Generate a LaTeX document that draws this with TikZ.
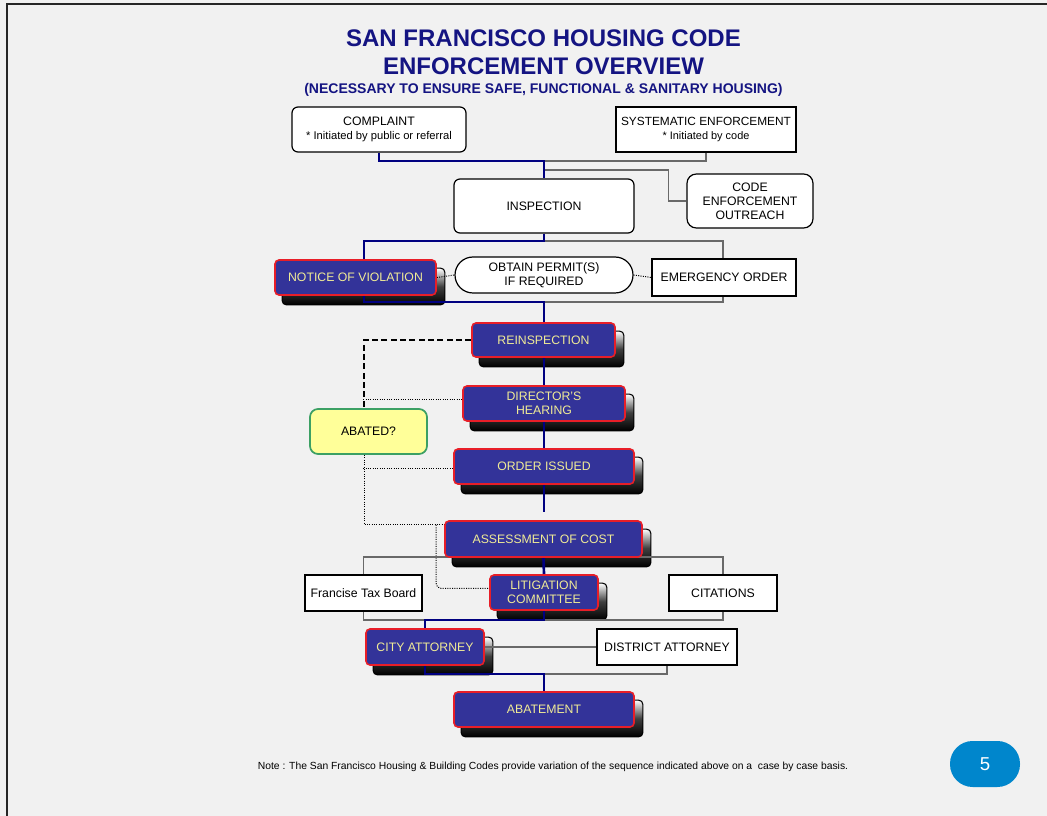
\documentclass[tikz,border=0pt]{standalone}
\usepackage{fontspec}
\setmainfont{Liberation Sans}
\usetikzlibrary{calc}
\pgfdeclarelayer{bgl}
\pgfdeclarelayer{shad}
\pgfdeclarelayer{lines}
\pgfsetlayers{bgl,shad,lines,main}
\definecolor{navyfill}{RGB}{51,51,153}
\definecolor{boxred}{RGB}{232,30,40}
\definecolor{paleyel}{RGB}{240,235,150}
\definecolor{titleblue}{RGB}{20,20,130}
\definecolor{linkblue}{RGB}{0,0,128}
\definecolor{linkgray}{RGB}{105,105,105}
\definecolor{abfill}{RGB}{255,255,153}
\definecolor{abgreen}{RGB}{60,160,100}
\definecolor{badgeblue}{RGB}{0,134,204}
\definecolor{bgcol}{RGB}{241,241,241}
\newcommand\mainfs{\fontsize{9.2}{10.5}\selectfont}
\newcommand\smallfs{\fontsize{8.4}{10.5}\selectfont}
\tikzset{
  sz/.style 2 args={minimum width=#1*0.75pt, minimum height=#2*0.75pt},
  wbox/.style={draw=black, fill=white, line width=0.9pt, align=center, font=\mainfs, inner sep=0pt},
  rbox/.style={wbox, rounded corners=4.5pt},
  nbox/.style={draw=boxred, fill=navyfill, line width=1.2pt, rounded corners=3pt, text=paleyel, align=center, font=\mainfs, inner sep=0pt},
  shadowbox/.style={draw=black, line width=0.8pt, rounded corners=3pt, top color=white, bottom color=black, middle color=black!75},
  bl/.style={draw=linkblue, line width=2pt},
  gl/.style={draw=linkgray, line width=1.3pt},
  dt/.style={draw=black, line width=0.75pt, densely dotted},
  dsh/.style={draw=black, line width=1.4pt, dash pattern=on 4.5pt off 2.5pt},
}
\begin{document}
\begin{tikzpicture}[x=0.75pt, y=-0.75pt]
\useasboundingbox (0,0) rectangle (1047,816);
\begin{pgfonlayer}{bgl}
\fill[bgcol] (0,0) rectangle (1047,816);
\draw[line width=2pt, black!85] (7,816) -- (7,4) -- (1047,4);
\end{pgfonlayer}

% titles
\node[font=\bfseries\fontsize{18}{20}\selectfont, text=titleblue] (t1) at (543.5,38) {SAN FRANCISCO HOUSING CODE};
\node[font=\bfseries\fontsize{18}{20}\selectfont, text=titleblue] (t2) at (543.5,66) {ENFORCEMENT OVERVIEW};
\node[font=\bfseries\fontsize{10.5}{12}\selectfont, text=titleblue] (t3) at (543.5,90) {(NECESSARY TO ENSURE SAFE, FUNCTIONAL \& SANITARY HOUSING)};

% boxes
\node[rbox, sz={174}{45}] (complaint) at (379,129.5) {COMPLAINT\\{\smallfs * Initiated by public or referral}};
\node[wbox, sz={180}{45}, font=\fontsize{8.9}{10.5}\selectfont] (systematic) at (706,129.5) {SYSTEMATIC ENFORCEMENT\\{\fontsize{8.2}{10.5}\selectfont * Initiated by code}};
\node[rbox, sz={180}{54}] (inspection) at (544,206) {INSPECTION};
\node[wbox, rounded corners=7pt, sz={126}{54}] (outreach) at (750,201) {CODE\\ENFORCEMENT\\OUTREACH};
\node[nbox, sz={161}{35}] (nov) at (355.5,277.5) {NOTICE OF VIOLATION};
\node[wbox, rounded corners=13.5pt, sz={178}{36}] (permit) at (544,275) {OBTAIN PERMIT(S)\\IF REQUIRED};
\node[wbox, sz={144}{37}] (emergency) at (724,277.5) {EMERGENCY ORDER};
\node[nbox, sz={143}{34}] (reinsp) at (543.5,340) {REINSPECTION};
\node[nbox, sz={162}{35}] (director) at (544,403.5) {DIRECTOR'S\\HEARING};
\node[nbox, sz={180}{35}] (order) at (544,466.5) {ORDER ISSUED};
\node[nbox, sz={197}{36}] (assess) at (543.5,539) {ASSESSMENT OF COST};
\node[nbox, sz={108}{35}] (litig) at (544,592.5) {LITIGATION\\COMMITTEE};
\node[nbox, sz={118}{36}] (cityatt) at (425,647) {CITY ATTORNEY};
\node[nbox, sz={180}{35}] (abatement) at (544,709.5) {ABATEMENT};
\node[draw=abgreen, fill=abfill, line width=1.3pt, rounded corners=6pt, font=\mainfs, inner sep=0pt, sz={117}{45}] (abated) at (368.5,431.5) {ABATED?};
\node[wbox, sz={117}{36}] (ftb) at (363.5,593) {Francise Tax Board};
\node[wbox, sz={108}{36}] (citations) at (723,593) {CITATIONS};
\node[wbox, sz={140}{36}] (da) at (667,647) {DISTRICT ATTORNEY};

\node[font=\fontsize{7.75}{9}\selectfont] (note) at (553,767) {Note : The San Francisco Housing \& Building Codes provide variation of the sequence indicated above on a\ \ case by case basis.};
\node[fill=badgeblue, text=white, rounded corners=17pt, font=\fontsize{14}{16}\selectfont, inner sep=0pt, sz={70}{46}] (pg) at (985,764) {5};

% shadows
\begin{pgfonlayer}{shad}
\foreach \n in {nov,reinsp,director,order,assess,litig,cityatt,abatement}{
  \path[shadowbox] ($(\n.south west)+(8,9)$) rectangle ($(\n.north east)+(8,9)$);
}
\end{pgfonlayer}

% connectors
\begin{pgfonlayer}{lines}
\coordinate (j1) at (544,161);
\coordinate (j2) at (544,170);
\coordinate (j3) at (544,241);
\coordinate (j4) at (544,302);
\draw[gl] (systematic.south) |- (j1);
\draw[gl] (j2) -| ($(outreach.west)+(-18,0)$) -- (outreach.west);
\draw[bl] (complaint.south) |- (j1) -- (inspection.north);
\draw[gl] (j3) -- (723,241) -- (723,302) -- (j4);
\draw[bl] (inspection.south) -- (j3) -- (364,241) -- (364,302) -- (j4) -- (544,512);
\draw[dt] (nov.east) -- (permit.west);
\draw[dt] (permit.east) -- (emergency.west);
\draw[dsh] (reinsp.west) -| ($(abated.north)+(-4.5,0)$);
\draw[dt] ($(director.west)+(-99,-4)$) -- ($(director.west)+(0,-4)$);
\draw[dt] ($(order.west)+(-90,2)$) -- ($(order.west)+(0,2)$);
\draw[dt] ($(abated.south)+(-4.5,0)$) |- ($(assess.north west)+(0,4)$);
\draw[dt, rounded corners=4pt] (436,525) |- ($(litig.west)+(0,-4)$);
\draw[gl] (ftb.north) -- (363.5,557) -- (723,557) -- (citations.north);
\draw[gl] (ftb.south) -- (363.5,620) -- (723,620) -- (citations.south);
\draw[bl] (assess.south) -- (litig.north);
\draw[bl] (litig.south) -- (544,620) -| (cityatt.north);
\draw[gl] (cityatt.east) -- (da.west);
\draw[gl] (da.south) |- (544,674);
\draw[bl] (cityatt.south) |- (544,674) -- (abatement.north);
\end{pgfonlayer}
\end{tikzpicture}
\end{document}
